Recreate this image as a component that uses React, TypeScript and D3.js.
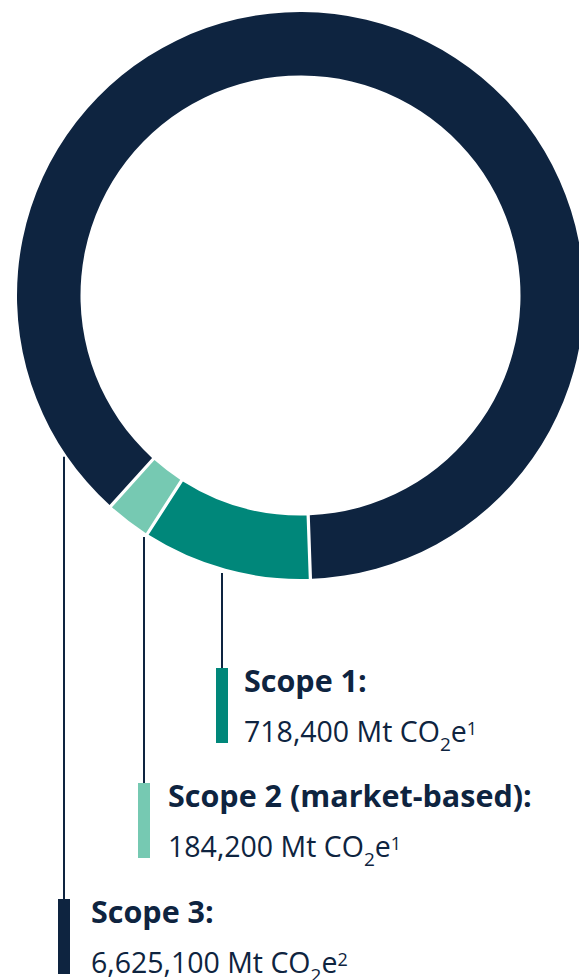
import React, { useRef, useEffect } from "react";
import * as d3 from "d3";

const categories = ["Scope 1", "Scope 2", "Scope 3"];
const titles = ["Scope 1:", "Scope 2 (market-based):", "Scope 3:"];
const values = [718400, 184200, 6625100];
const footnotes = ["1", "1", "2"];
const colors = ["#00877a", "#76c9b2", "#0e2440"];

const WIDTH = 579;
const HEIGHT = 980;

const App: React.FC = () => {
    const svgRef = useRef<SVGSVGElement | null>(null);

    useEffect(() => {
        const cx = 300.5;
        const cy = 295.5;
        const outerRadius = 283.5;
        const innerRadius = 220;
        const startAngle = (178 / 180) * Math.PI;

        // label layout: leader x, text x, title baseline
        const leaderX = [222, 144, 64];
        const textX = [244, 168, 91];
        const titleY = [692, 807, 923];

        const svg = d3.select(svgRef.current);
        svg.selectAll("*").remove();

        const data = categories.map((c, i) => ({ name: c, value: values[i], i }));

        const pie = d3
            .pie<any>()
            .sort(null)
            .value((d) => d.value)
            .startAngle(startAngle)
            .endAngle(startAngle + 2 * Math.PI)
            .padAngle(0.009);

        const arc = d3
            .arc<any>()
            .innerRadius(innerRadius)
            .outerRadius(outerRadius)
            .padRadius(Math.sqrt(innerRadius * innerRadius + outerRadius * outerRadius));

        const g = svg.append("g").attr("transform", `translate(${cx}, ${cy})`);

        g.selectAll("path")
            .data(pie(data))
            .join("path")
            .attr("d", arc)
            .attr("fill", (d) => colors[d.data.i]);

        const fmt = d3.format(",");
        const font = "'Open Sans', 'Noto Sans', sans-serif";

        data.forEach((d, i) => {
            const x = leaderX[i];
            const top = cy + Math.sqrt(outerRadius * outerRadius - (x - cx) * (x - cx)) + 5;
            const barTop = titleY[i] - 24;
            const barBottom = titleY[i] + 51;

            svg.append("line")
                .attr("x1", x)
                .attr("x2", x)
                .attr("y1", top)
                .attr("y2", barTop)
                .attr("stroke", "#0e2440")
                .attr("stroke-width", 2);

            svg.append("rect")
                .attr("x", x - 6)
                .attr("y", barTop)
                .attr("width", 12)
                .attr("height", barBottom - barTop)
                .attr("fill", colors[i]);

            svg.append("text")
                .attr("x", textX[i])
                .attr("y", titleY[i])
                .attr("fill", "#0e2440")
                .attr("font-family", font)
                .attr("font-weight", 700)
                .attr("font-size", 30.5)
                .text(titles[i]);

            const t = svg
                .append("text")
                .attr("x", textX[i])
                .attr("y", titleY[i] + 50)
                .attr("fill", "#0e2440")
                .attr("font-family", font)
                .attr("font-size", 28.5);
            t.append("tspan").text(`${fmt(d.value)} Mt CO`);
            t.append("tspan").attr("font-size", 19).attr("dy", 9).text("2");
            t.append("tspan").attr("dy", -9).text("e");
            t.append("tspan").attr("font-size", 18).attr("dy", -7).text(footnotes[i]);
        });

        return () => {
            svg.selectAll("*").remove();
        };
    }, []);

    return (
        <svg
            ref={svgRef}
            width={WIDTH}
            height={HEIGHT}
            style={{ position: "absolute", left: 0, top: 0, background: "#fff" }}
        ></svg>
    );
};

export default App;
